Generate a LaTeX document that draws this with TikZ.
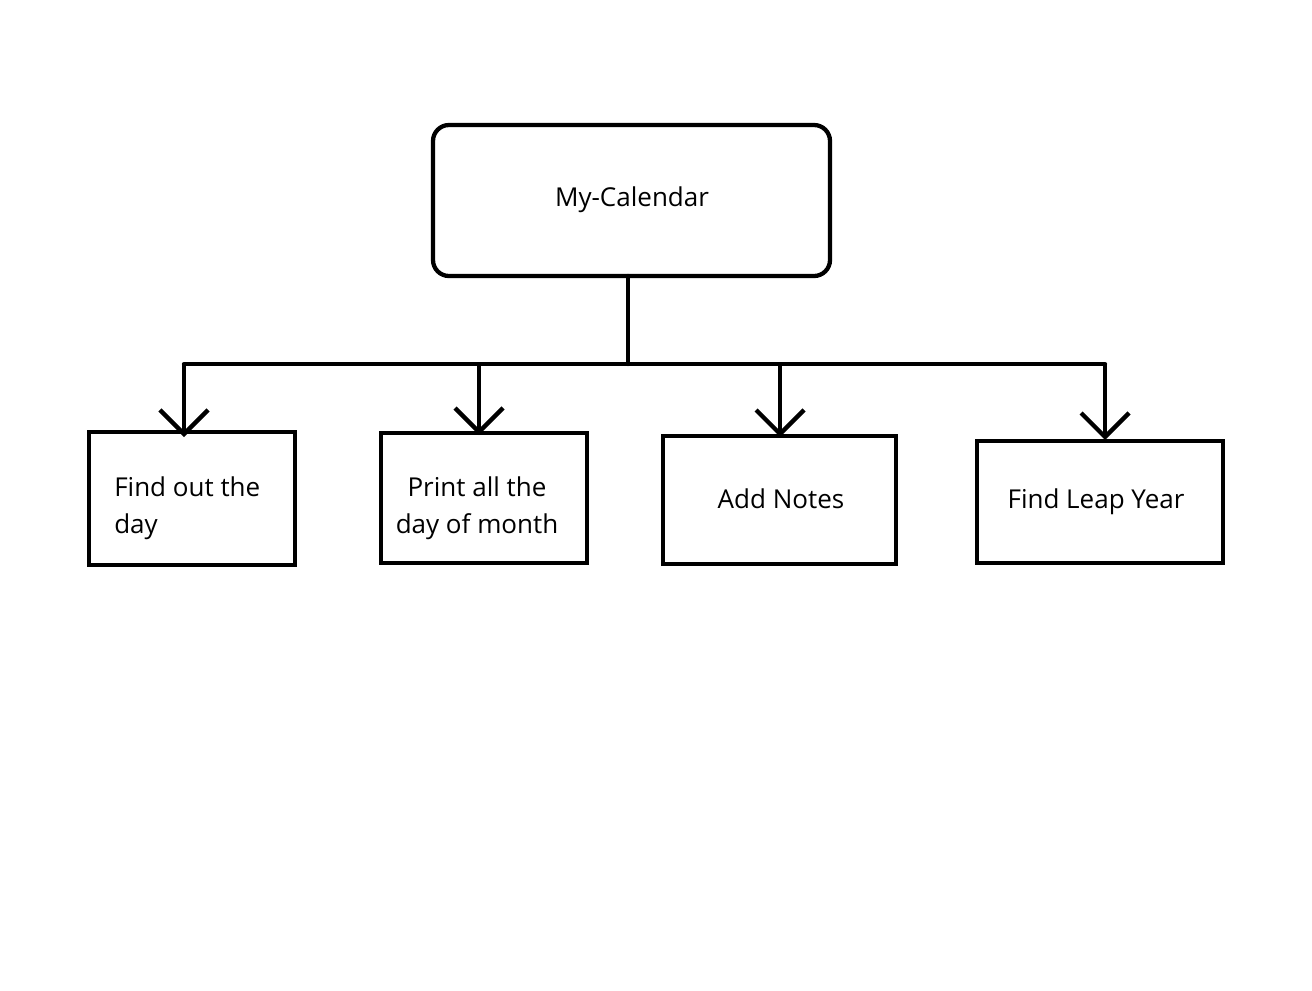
\documentclass[tikz,border=0pt]{standalone}
\usepackage{fontspec}
\setmainfont{Open Sans}
\usetikzlibrary{arrows.meta}
\begin{document}
\begin{tikzpicture}[x=0.75pt,y=-0.75pt,
  lw/.style={line width=3.2pt},
  box/.style={draw,lw,inner sep=0pt},
  lbl/.style={font=\fontsize{19.5}{27.5}\selectfont,inner sep=0pt},
  conn/.style={lw,line cap=round},
  arr/.style={lw,-{Straight Barb[length=18pt,width=36pt,line width=3.2pt]}}]
\useasboundingbox[fill=white] (0,0) rectangle (1312,990);
% boxes
\draw[box,rounded corners=12pt] (433,125) rectangle (830,276);
\node[lbl] (top) at (632,200) {My-Calendar};
\coordinate (topb) at (628,276);
\draw[box] (89,432) rectangle (295,565);
\draw[box] (381,433) rectangle (587,563);
\draw[box] (663,436) rectangle (896,564);
\draw[box] (977,441) rectangle (1223,563);
\node[lbl,anchor=west,align=left] (b1) at (114,508) {Find out the\\day};
\node[lbl,align=center] (b2) at (477,508) {Print all the\\day of month};
\node[lbl] (b3) at (781,499) {Add Notes};
\node[lbl] (b4) at (1096,502) {Find Leap Year};
% connectors
\coordinate (j) at (628,364);
\coordinate (h1) at (184,364);
\coordinate (h2) at (479,364);
\coordinate (h3) at (780,364);
\coordinate (h4) at (1105,364);
\coordinate (t1) at (184,437);
\coordinate (t2) at (479,435);
\coordinate (t3) at (780,437);
\coordinate (t4) at (1105,440);
\draw[conn] (topb) -- (j);
\draw[conn] (h1) -- (h4);
\draw[arr] (h1) -- (t1);
\draw[arr] (h2) -- (t2);
\draw[arr] (h3) -- (t3);
\draw[arr] (h4) -- (t4);
\end{tikzpicture}
\end{document}
